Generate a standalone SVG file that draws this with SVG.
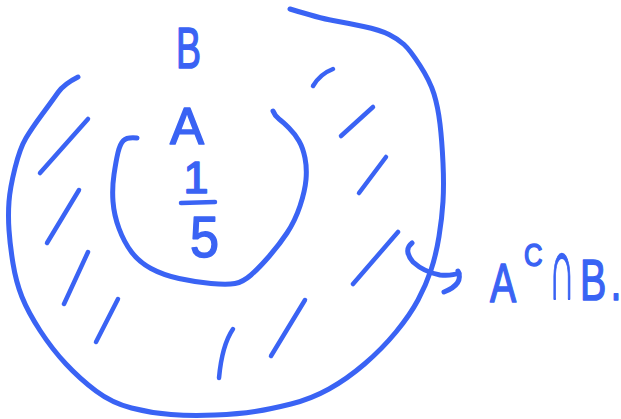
<svg xmlns="http://www.w3.org/2000/svg" width="621" height="419" viewBox="0 0 621 419">
<style>
.ink{fill:none;stroke:#3a63f4;stroke-width:5;stroke-linecap:round;stroke-linejoin:round}
.hatch{fill:none;stroke:#3a63f4;stroke-width:4.5;stroke-linecap:round}
.t{font-family:"Liberation Sans","DejaVu Sans",sans-serif;fill:#3a63f4;stroke:#3a63f4;stroke-width:1.6;stroke-linejoin:round}
</style>
<rect width="621" height="419" fill="#ffffff"/>
<g id="setB">
<path class="ink" d="M290,9 Q319,18 333,20.5 Q347,23 363.5,26.5 Q380,30 389,34.5 Q398,39 404,44.5 Q410,50 420,65.5 Q430,81 434,94 Q438,107 440,124 Q442,141 443,163 Q444,185 443,201.5 Q442,218 439,236.5 Q436,255 431,270 Q426,285 418,300 Q410,315 396,332 Q382,349 364.5,364 Q347,379 329,389 Q311,399 291,404 Q271,409 255,411.5 Q239,414 215,415 Q191,416 171,414.5 Q151,413 131.5,408 Q112,403 96,391 Q80,379 66,364 Q52,349 40,330.5 Q28,312 22,297 Q16,282 13,263.5 Q10,245 9,230 Q8,215 9,201.5 Q10,188 15,168 Q20,148 26,138 Q32,128 42,114.5 Q52,101 58,92.5 Q64,84 78,77"/>
<text class="t" x="176" y="68" font-size="57" textLength="25" lengthAdjust="spacingAndGlyphs">B</text>
</g>
<g id="setA">
<path class="ink" d="M137,138 Q127,137 123.5,140.5 Q120,144 118,152.5 Q116,161 114,174.5 Q112,188 113,201.5 Q114,215 119,228.5 Q124,242 131.5,252 Q139,262 151,268.5 Q163,275 179,278.5 Q195,282 211,283.5 Q227,285 235,283.5 Q243,282 251,275 Q259,268 269,256.5 Q279,245 287,233 Q295,221 300,206 Q305,191 306,179.5 Q307,168 305,158 Q303,148 299,141 Q295,134 289,128 Q283,122 279,119 Q275,116 273,111"/>
<text class="t" x="170" y="144" font-size="52" textLength="34" lengthAdjust="spacingAndGlyphs">A</text>
<text class="t" x="196" y="193" font-size="45" text-anchor="middle">1</text>
<path class="hatch" d="M181,203 L215,202"/>
<text class="t" x="190" y="257" font-size="58" textLength="29" lengthAdjust="spacingAndGlyphs">5</text>
</g>
<g id="shading">
<path class="hatch" d="M333,69 Q320,74 313,86"/>
<path class="hatch" d="M373,107 L341,136"/>
<path class="hatch" d="M88,119 L40,173"/>
<path class="hatch" d="M386,157 L359,193"/>
<path class="hatch" d="M79,190 L47,243"/>
<path class="hatch" d="M398,232 L353,284"/>
<path class="hatch" d="M88,252 L64,304"/>
<path class="hatch" d="M118,299 L96,342"/>
<path class="hatch" d="M305,300 L271,356"/>
<path class="hatch" d="M233,329 Q222,345 219,378"/>
</g>
<g id="connectors">
<path class="ink" d="M412,243 Q403,250 413,262 Q424,272 440,275 Q452,276 459,273"/>
<path class="ink" d="M458,271 Q464,284 444,292"/>
</g>
<g id="label">
<g transform="translate(490,302) scale(0.7,1)"><text class="t" font-size="56">A</text></g>
<g transform="translate(524,266) scale(0.8,1)"><text class="t" font-size="32">C</text></g>
<g transform="translate(549,299) scale(0.4,1)"><text class="t" font-size="90">∩</text></g>
<g transform="translate(580,300) scale(0.68,1)"><text class="t" font-size="58">B<tspan dx="6">.</tspan></text></g>
</g>
</svg>
